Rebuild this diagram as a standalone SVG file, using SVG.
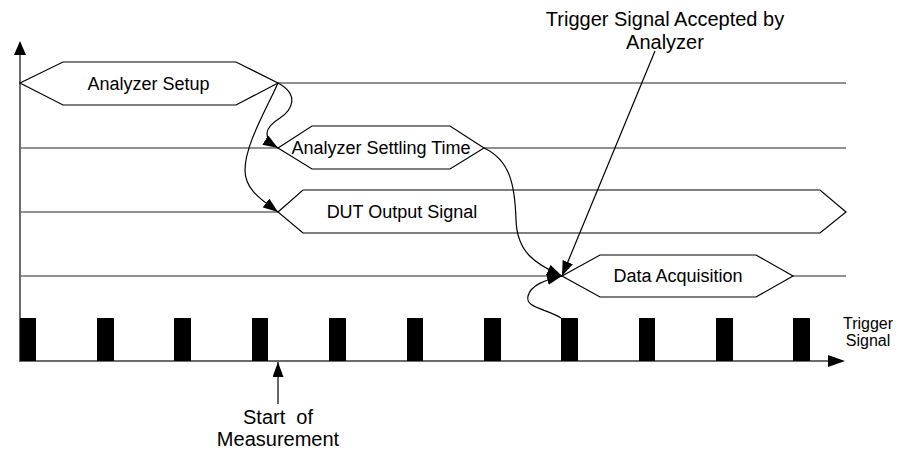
<svg xmlns="http://www.w3.org/2000/svg" width="901" height="451" viewBox="0 0 901 451">
<style>
.lane{stroke:#6b6b6b;stroke-width:1.6;fill:none}
.axis{stroke:#6b6b6b;stroke-width:2;fill:none}
.hex{fill:#fff;stroke:#000;stroke-width:1.2}
.con{stroke:#000;stroke-width:1.2;fill:none}
.pulse{fill:#000}
.lbl{font-family:"Liberation Sans",Arial,sans-serif;font-size:18px;fill:#000;text-anchor:middle}
.big{font-family:"Liberation Sans",Arial,sans-serif;font-size:20px;fill:#000;text-anchor:middle}
.sm{font-family:"Liberation Sans",Arial,sans-serif;font-size:16px;fill:#000;text-anchor:middle}
</style>
<defs>
<marker id="ah" markerWidth="15" markerHeight="11" refX="15" refY="5.5" orient="auto" markerUnits="userSpaceOnUse">
<path d="M0,0 L15,5.5 L0,11 Z" fill="#000"/>
</marker>
</defs>
<rect width="901" height="451" fill="#fff"/>
<g id="axes">
<line class="axis" x1="20" y1="362" x2="20" y2="55"/>
<path d="M14,55 L20,41 L26,55 Z" fill="#000"/>
<line class="axis" x1="20" y1="361" x2="830" y2="361"/>
<path d="M828,355 L845,361 L828,367 Z" fill="#000"/>
</g>
<g id="lanes">
<line class="lane" x1="278" y1="83" x2="846" y2="83"/>
<line class="lane" x1="20" y1="148" x2="846" y2="148"/>
<line class="lane" x1="20" y1="212" x2="278" y2="212"/>
<line class="lane" x1="20" y1="276" x2="846" y2="276"/>
</g>
<g id="pulses">
<rect class="pulse" x="20" y="318" width="16" height="43"/>
<rect class="pulse" x="97" y="318" width="17" height="43"/>
<rect class="pulse" x="174" y="318" width="17" height="43"/>
<rect class="pulse" x="252" y="318" width="16" height="43"/>
<rect class="pulse" x="329" y="318" width="17" height="43"/>
<rect class="pulse" x="407" y="318" width="16" height="43"/>
<rect class="pulse" x="484" y="318" width="17" height="43"/>
<rect class="pulse" x="561" y="318" width="17" height="43"/>
<rect class="pulse" x="639" y="318" width="16" height="43"/>
<rect class="pulse" x="716" y="318" width="17" height="43"/>
<rect class="pulse" x="793" y="318" width="17" height="43"/>
</g>
<g id="analyzer-setup">
<polygon class="hex" points="20,83 63,62 236,62 278,83 236,105 63,105"/>
<text class="lbl" x="148.5" y="90">Analyzer Setup</text>
</g>
<g id="analyzer-settling-time">
<polygon class="hex" points="278,148 312,126 450,126 484,148 450,169 312,169"/>
<text class="lbl" x="381" y="154">Analyzer Settling Time</text>
</g>
<g id="dut-output-signal">
<polygon class="hex" points="278,212 303,190 820,190 846,212 820,233 303,233"/>
<text class="lbl" x="402" y="218">DUT Output Signal</text>
</g>
<g id="data-acquisition">
<polygon class="hex" points="562,276 600,255 756,255 793,276 756,297 600,297"/>
<text class="lbl" x="678" y="282">Data Acquisition</text>
</g>
<g id="connectors">
<path class="con" d="M278,83 C300,95 292,110 280,118 C264,128 262,138 278,148" marker-end="url(#ah)"/>
<path class="con" d="M278,83 C266,110 245,145 245,170 C245,190 262,200 278,212" marker-end="url(#ah)"/>
<path class="con" d="M484,148 C510,160 515,185 516,220 C517,252 535,264 562,276" marker-end="url(#ah)"/>
<path class="con" d="M561,318 C545,308 525,308 528,296 C531,285 545,280 562,276" marker-end="url(#ah)"/>
<line class="con" x1="655" y1="51" x2="562" y2="276" marker-end="url(#ah)"/>
<line class="con" x1="278" y1="404" x2="278" y2="362" marker-end="url(#ah)"/>
</g>
<g id="labels">
<text class="big" x="665" y="26">Trigger Signal Accepted by</text>
<text class="big" x="665" y="49">Analyzer</text>
<text class="big" x="278" y="424" xml:space="preserve">Start  of</text>
<text class="big" x="278" y="446">Measurement</text>
<text class="sm" x="868" y="329">Trigger</text>
<text class="sm" x="868" y="346">Signal</text>
</g>
</svg>
